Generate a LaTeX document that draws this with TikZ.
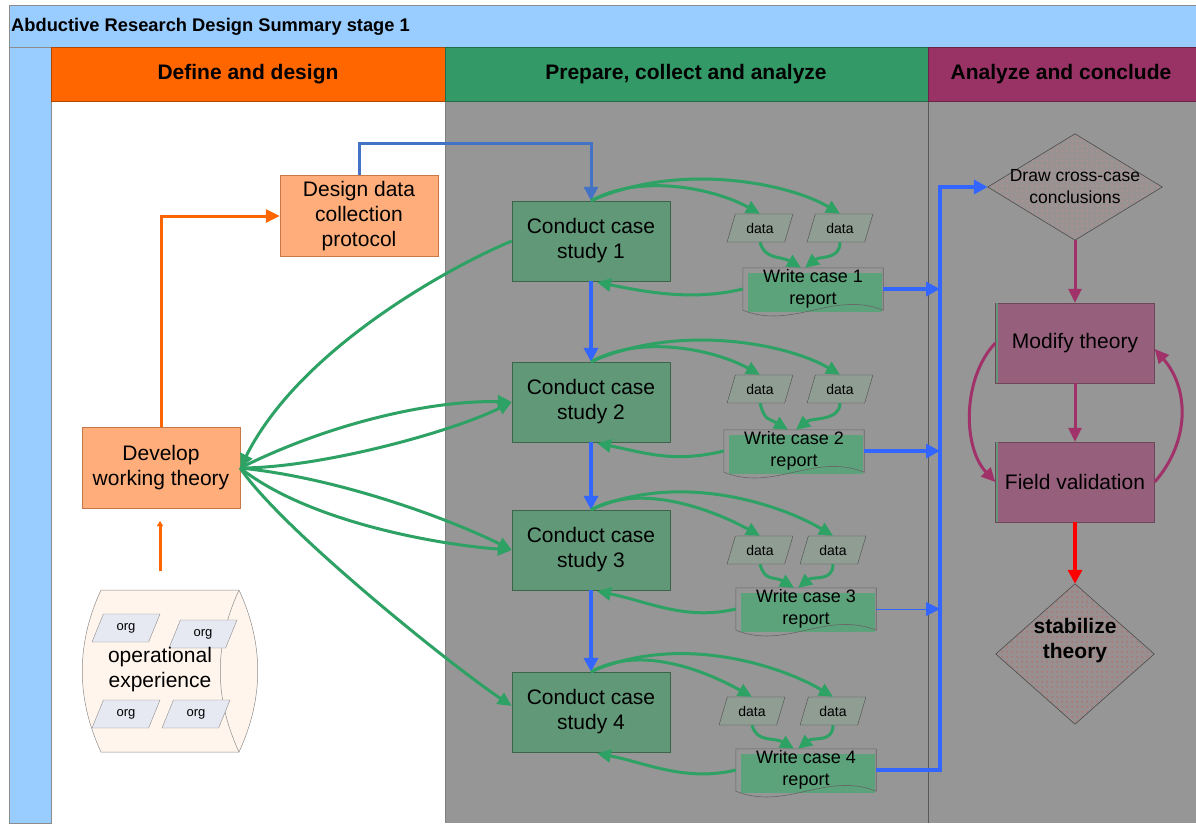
\documentclass[tikz,border=0pt]{standalone}
\usepackage{fontspec}
\setmainfont{Liberation Sans}
\usetikzlibrary{arrows.meta,shapes.geometric,calc,patterns.meta}
\definecolor{tbblue}{RGB}{153,204,255}
\definecolor{horange}{RGB}{255,102,0}
\definecolor{hgreen}{RGB}{51,153,102}
\definecolor{hpurple}{RGB}{153,51,102}
\definecolor{bodygray}{RGB}{150,150,150}
\definecolor{ofill}{RGB}{255,173,122}
\definecolor{obord}{RGB}{200,120,70}
\definecolor{cfill}{RGB}{96,152,120}
\definecolor{cbord}{RGB}{60,100,75}
\definecolor{rfill}{RGB}{92,162,122}
\definecolor{dfill}{RGB}{143,157,147}
\definecolor{pfill}{RGB}{150,96,125}
\definecolor{pbord}{RGB}{110,70,90}
\definecolor{garr}{RGB}{46,162,100}
\definecolor{barr}{RGB}{51,102,255}
\definecolor{pblue}{RGB}{68,114,196}
\definecolor{parr}{RGB}{160,50,105}
\definecolor{orgfill}{RGB}{230,232,242}
\definecolor{oefill}{RGB}{255,245,236}
\definecolor{dcfill}{RGB}{152,146,147}
\definecolor{stfill}{RGB}{152,144,144}
\tikzdeclarepattern{name=rdots, type=uncolored, bottom left={(0pt,0pt)}, top right={(5pt,5pt)}, tile size={(5pt,5pt)}, code={\fill (2.5pt,2.5pt) circle (0.65pt);}}
\newcommand\docshape[1]{%
  \fill[rfill] ($(#1.north west)+(5,5)$) rectangle ($(#1.south east)+(-1,2)$);
  \draw[black!60, line width=0.6pt] (#1.south west) -- (#1.north west) -- (#1.north east) -- (#1.south east) .. controls +(-50,-20) and +(50,20) .. (#1.south west);
}
\newcommand\diamondshape[3]{%
  \fill[#2] (#1.north) -- (#1.east) -- (#1.south) -- (#1.west) -- cycle;
  \fill[pattern=rdots, pattern color=#3] (#1.north) -- (#1.east) -- (#1.south) -- (#1.west) -- cycle;
  \draw[black!70, line width=0.6pt] (#1.north) -- (#1.east) -- (#1.south) -- (#1.west) -- cycle;
}
\tikzset{
  lbl/.style={font=\fontsize{21}{25}\selectfont, align=center, inner sep=0pt},
  hdr/.style={font=\bfseries\fontsize{21}{25}\selectfont, inner sep=0pt},
  obox/.style={lbl, draw=obord, fill=ofill, minimum width=158pt, minimum height=81pt},
  cbox/.style={lbl, draw=cbord, fill=cfill, minimum width=158pt, minimum height=80pt},
  pbox/.style={lbl, draw=pbord, fill=pfill, minimum width=159pt, minimum height=80pt},
  datapara/.style={trapezium, trapezium left angle=66, trapezium right angle=114, trapezium stretches=true,
    draw=black!70, fill=dfill, minimum width=66pt, minimum height=28pt, inner sep=0pt, font=\fontsize{14}{16}\selectfont},
  orgpara/.style={trapezium, trapezium left angle=64, trapezium right angle=116, trapezium stretches=true,
    draw=black!45, fill=orgfill, minimum width=68pt, minimum height=28pt, inner sep=0pt, font=\fontsize{13}{15}\selectfont},
  report/.style={align=center, inner sep=0pt, font=\fontsize{18}{22}\selectfont, minimum width=140pt, minimum height=42pt},
  diam/.style={lbl, font=\fontsize{17.5}{22}\selectfont},
  garrow/.style={draw=garr, line width=3pt, -{Triangle[length=14pt,width=13pt]}},
  barrow/.style={draw=barr, line width=3.5pt, -{Triangle[length=14pt,width=14pt]}},
  parrow/.style={draw=parr, line width=3pt, -{Triangle[length=14pt,width=13pt]}},
  rarrow/.style={draw=red, line width=3.5pt, -{Triangle[length=14pt,width=14pt]}},
  oarrow/.style={draw=horange, line width=3pt, -{Triangle[length=14pt,width=13pt]}},
}
\begin{document}
\begin{tikzpicture}[x=1pt,y=-1pt]
\useasboundingbox (0,0) rectangle (1196,823);
% backgrounds
\fill[white] (0,0) rectangle (1196,823);
\fill[white] (51,101) rectangle (445,823);
\fill[bodygray] (445,101) rectangle (1196,823);
\draw[black!50] (445,101) -- (445,823);
\draw[black!65] (928,101) -- (928,823);
\filldraw[fill=tbblue, draw=black!45] (9,5) rectangle (1196,47);
\filldraw[fill=tbblue, draw=black!45] (9,47) rectangle (51,823);
\filldraw[fill=horange, draw=horange!70!black] (51,47) rectangle (445,101);
\filldraw[fill=hgreen, draw=hgreen!70!black] (445,47) rectangle (928,101);
\filldraw[fill=hpurple, draw=hpurple!70!black] (928,47) rectangle (1196,101);
\node[anchor=west, font=\bfseries\fontsize{18.3}{22}\selectfont, inner sep=0pt] (title) at (11,27) {Abductive Research Design Summary stage 1};
\node[hdr] (h1) at (248,74) {Define and design};
\node[hdr] (h2) at (686,74) {Prepare, collect and analyze};
\node[hdr] (h3) at (1061,74) {Analyze and conclude};

% operational experience drum
\filldraw[fill=oefill, draw=black!45, line width=0.5pt] (101,590) -- (239,590) .. controls (264,644) and (264,698) .. (239,752) -- (101,752) .. controls (76,698) and (76,644) .. (101,590) -- cycle;
\draw[black!45, line width=0.5pt] (239,590) .. controls (214,644) and (214,698) .. (239,752);
\node[orgpara] (o1) at (126,628) {org};
\node[orgpara] (o2) at (203,634) {org};
\node[orgpara] (o3) at (126,714) {org};
\node[orgpara] (o4) at (196,714) {org};
\node[lbl] (oe) at (160,670) {operational\\experience};

% define lane
\node[obox] (ddc) at (359,216) {Design data\\collection\\protocol};
\node[obox] (dwt) at (161,468) {Develop\\working theory};

% case studies
\node[cbox] (c1) at (591,241) {Conduct case\\study 1};
\node[cbox] (c2) at (591,402) {Conduct case\\study 2};
\node[cbox] (c3) at (591,550) {Conduct case\\study 3};
\node[cbox] (c4) at (591,712) {Conduct case\\study 4};

\node[datapara] (d11) at (760,228) {data};
\node[datapara] (d12) at (840,228) {data};
\node[datapara] (d21) at (760,389) {data};
\node[datapara] (d22) at (840,389) {data};
\node[datapara] (d31) at (760,550) {data};
\node[datapara] (d32) at (833,550) {data};
\node[datapara] (d41) at (752,711) {data};
\node[datapara] (d42) at (833,711) {data};

\node[report] (w1) at (813,289) {};
\node[report] (w2) at (794,451) {};
\node[report] (w3) at (806,609) {};
\node[report] (w4) at (806,770) {};
\docshape{w1}\docshape{w2}\docshape{w3}\docshape{w4}
\node[report] at (w1) {Write case 1\\report};
\node[report] at (w2) {Write case 2\\report};
\node[report] at (w3) {Write case 3\\report};
\node[report] at (w4) {Write case 4\\report};

% conclude lane
\node[diam, minimum width=174pt, minimum height=106pt] (dcc) at (1075,187) {};
\diamondshape{dcc}{dcfill}{red!45}
\node[diam] at (dcc) {Draw cross-case\\conclusions};
\node[pbox] (mt) at (1075,343) {Modify theory};
\node[pbox] (fv) at (1075,482) {Field validation};
\draw[draw=cfill, line width=2.5pt] ($(mt.north west)+(1.8,0.5)$) -- ($(mt.south west)+(1.8,-0.5)$);
\draw[draw=cfill, line width=2.5pt] ($(fv.north west)+(1.8,0.5)$) -- ($(fv.south west)+(1.8,-0.5)$);
\node[lbl, minimum width=158pt, minimum height=140pt] (st) at (1075,654) {};
\diamondshape{st}{stfill}{red!85}
\node[lbl, font=\bfseries\fontsize{21}{25}\selectfont] at ($(st)+(0,-13)$) {stabilize\\theory};

% orange connectors
\draw[oarrow] (dwt.north) |- (ddc.west);
\coordinate (oeup) at (160,571);
\coordinate (oetip) at (160,521);
\draw[draw=horange, line width=3pt, -{Triangle[length=5pt,width=6pt]}] (oeup) -- (oetip);

% protocol to case 1
\draw[draw=pblue, line width=3pt, -{Triangle[length=14pt,width=14pt]}] (ddc.north) -- ++(0,-32) -| (c1.north);

% blue case chain
\draw[barrow] (c1.south) -- (c2.north);
\draw[barrow] (c2.south) -- (c3.north);
\draw[barrow] (c3.south) -- (c4.north);

% theory <-> cases
\draw[garrow] (c1.west) .. controls +(-60,25) and +(60,-120) .. (dwt.east);
\draw[garrow] (dwt.east) .. controls +(90,-45) and +(-80,-2) .. (c2.west);
\draw[garrow] (dwt.east) .. controls +(80,0) and +(-60,30) .. (c2.west);
\draw[garrow] (dwt.east) .. controls +(100,10) and +(-60,-30) .. (c3.west);
\draw[garrow] (dwt.east) .. controls +(70,55) and +(-70,-5) .. (c3.west);
\draw[garrow] (dwt.east) .. controls +(40,60) and +(-60,-40) .. ($(c4.west)+(0,-6)$);

% case -> data -> report -> case
\draw[garrow] (c1.north) .. controls +(50,-28) and +(-45,-25) .. (d11.north);
\draw[garrow] (c1.north) .. controls +(90,-40) and +(-50,-30) .. (d12.north);
\draw[garrow] (d11.south) .. controls +(5,18) and +(-20,-12) .. ($(w1.north)+(-12,0)$);
\draw[garrow] (d12.south) .. controls +(0,18) and +(15,-12) .. ($(w1.north)+(-8,0)$);
\draw[garrow] (w1.west) .. controls +(-50,12) and +(50,10) .. ($(c1.south)+(6,1)$);

\draw[garrow] (c2.north) .. controls +(50,-28) and +(-45,-25) .. (d21.north);
\draw[garrow] (c2.north) .. controls +(90,-40) and +(-50,-30) .. (d22.north);
\draw[garrow] (d21.south) .. controls +(5,18) and +(-20,-12) .. ($(w2.north)+(-6,0)$);
\draw[garrow] (d22.south) .. controls +(0,18) and +(15,-12) .. ($(w2.north)+(2,0)$);
\draw[garrow] (w2.west) .. controls +(-50,12) and +(50,10) .. ($(c2.south)+(6,1)$);

\draw[garrow] (c3.north) .. controls +(50,-28) and +(-45,-25) .. (d31.north);
\draw[garrow] (c3.north) .. controls +(90,-40) and +(-50,-30) .. (d32.north);
\draw[garrow] (d31.south) .. controls +(5,18) and +(-20,-12) .. ($(w3.north)+(-12,0)$);
\draw[garrow] (d32.south) .. controls +(0,18) and +(15,-12) .. ($(w3.north)+(-8,0)$);
\draw[garrow] (w3.west) .. controls +(-50,12) and +(50,10) .. ($(c3.south)+(6,1)$);

\draw[garrow] (c4.north) .. controls +(50,-28) and +(-45,-25) .. (d41.north);
\draw[garrow] (c4.north) .. controls +(90,-40) and +(-50,-30) .. (d42.north);
\draw[garrow] (d41.south) .. controls +(5,18) and +(-20,-12) .. ($(w4.north)+(-12,0)$);
\draw[garrow] (d42.south) .. controls +(0,18) and +(15,-12) .. ($(w4.north)+(-8,0)$);
\draw[garrow] (w4.west) .. controls +(-50,12) and +(50,10) .. ($(c4.south)+(6,1)$);

% reports -> bus -> conclusions
\coordinate (busT) at (940,187);
\draw[barrow] (w1.east) -- (w1.east -| busT);
\draw[barrow] (w2.east) -- (w2.east -| busT);
\draw[draw=barr, line width=1pt, -{Triangle[length=14pt,width=14pt]}] (w3.east) -- (w3.east -| busT);
\draw[barrow] (w4.east) -| (busT) -- (dcc.west);

% conclude lane connectors
\draw[parrow] (dcc.south) -- (mt.north);
\draw[parrow] (mt.south) -- (fv.north);
\draw[parrow] (mt.west) .. controls +(-33,35) and +(-33,-35) .. (fv.west);
\draw[parrow] (fv.east) .. controls +(35,-40) and +(35,40) .. ($(mt.east)+(0,6)$);
\draw[rarrow] (fv.south) -- (st.north);
\end{tikzpicture}
\end{document}
